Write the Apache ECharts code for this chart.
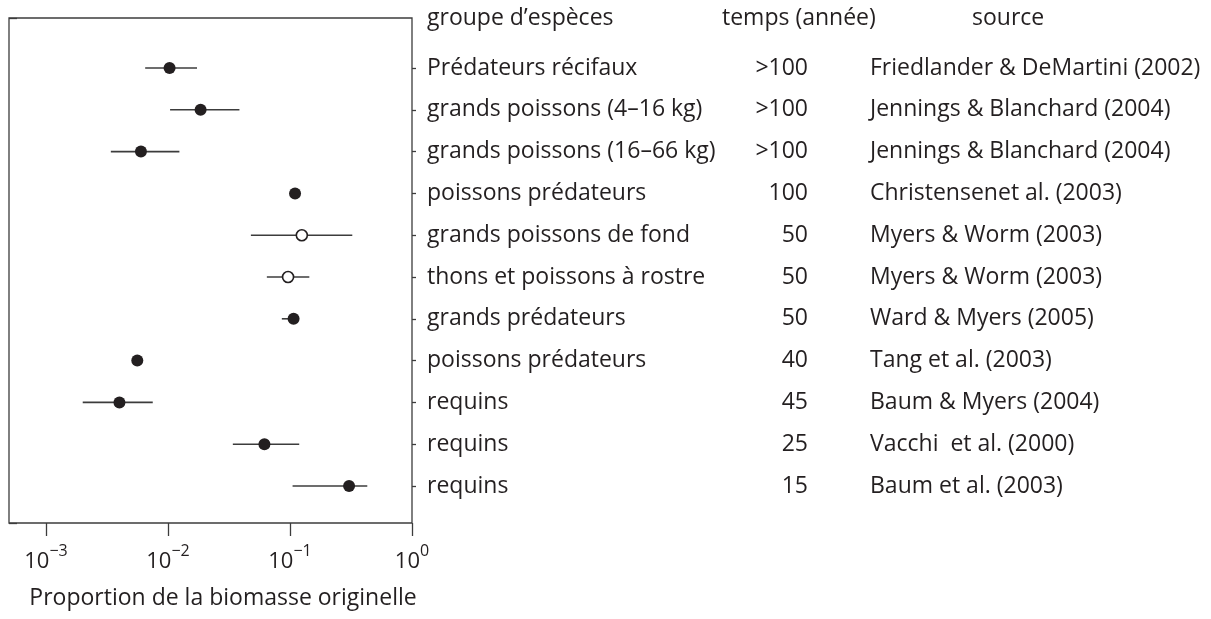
<!DOCTYPE html>
<html>
<head>
<meta charset="utf-8">
<script src="https://cdn.jsdelivr.net/npm/echarts@6/dist/echarts.min.js"></script>
<style>
  html, body { margin: 0; padding: 0; background: #fff; }
  #chart { width: 1211px; height: 619px; }
</style>
</head>
<body>
<div id="chart"></div>
<script>
// en-têtes des colonnes
const headers = ['groupe d\u2019espèces', 'temps (année)', 'source']

// lignes du tableau (de haut en bas)
const groups = [
  'Prédateurs récifaux',
  'grands poissons (4–16 kg)',
  'grands poissons (16–66 kg)',
  'poissons prédateurs',
  'grands poissons de fond',
  'thons et poissons à rostre',
  'grands prédateurs',
  'poissons prédateurs',
  'requins',
  'requins',
  'requins'
]
const durations = ['>100', '>100', '>100', '100', '50', '50', '50', '40', '45', '25', '15']
const sources = [
  'Friedlander & DeMartini (2002)',
  'Jennings & Blanchard (2004)',
  'Jennings & Blanchard (2004)',
  'Christensenet al. (2003)',
  'Myers & Worm (2003)',
  'Myers & Worm (2003)',
  'Ward & Myers (2005)',
  'Tang et al. (2003)',
  'Baum & Myers (2004)',
  'Vacchi  et al. (2000)',
  'Baum et al. (2003)'
]

// proportion de la biomasse originelle (estimation + intervalle)
const estimates = [0.0103, 0.0185, 0.0060, 0.110, 0.125, 0.0964, 0.107, 0.0056, 0.0040, 0.0617, 0.305]
const lowerCI = [0.0065, 0.0104, 0.0034, null, 0.0478, 0.0646, 0.0857, null, 0.0020, 0.034, 0.105]
const upperCI = [0.0173, 0.0385, 0.0124, null, 0.324, 0.144, 0.107, null, 0.0075, 0.119, 0.43]
const openMarker = [false, false, false, false, true, true, false, false, false, false, false]

const xMin = 0.001
const xMax = 1
const xTitle = 'Proportion de la biomasse originelle'

const FONT = 'Open Sans'
const INK = '#231f20'
const LINE = '#3c3c3c'
const FS = 23

const chart = echarts.init(document.getElementById('chart'))

const rowIdx = groups.map((g, i) => String(i))

const errData = []
estimates.forEach((v, i) => {
  if (lowerCI[i] != null) errData.push([lowerCI[i], upperCI[i], i])
})
const filled = []
const hollow = []
estimates.forEach((v, i) => {
  (openMarker[i] ? hollow : filled).push([v, i])
})

const sup = n => (n < 0 ? '\u2212' + Math.abs(n) : String(n))

// axe de catégories (lignes), une copie par colonne de texte
const rowAxis = (labels, margin, align, withTicks) => ({
  gridIndex: 1,
  type: 'category',
  position: 'right',
  inverse: true,
  boundaryGap: false,
  data: rowIdx,
  axisLine: { show: false },
  axisTick: { show: withTicks, inside: false, length: 4, lineStyle: { color: LINE, width: 1.3 } },
  splitLine: { show: false },
  axisLabel: {
    margin: margin,
    interval: 0,
    align: align,
    fontFamily: FONT,
    fontSize: FS,
    color: INK,
    formatter: (v, i) => labels[i]
  }
})

const option = {
  animation: false,
  backgroundColor: '#fff',
  textStyle: { fontFamily: FONT, color: INK },
  grid: [
    // cadre
    { left: 9, right: 799, top: 18, bottom: 96, show: true, borderColor: LINE, borderWidth: 1.3, backgroundColor: 'transparent' },
    // zone des données
    { left: 46, right: 799, top: 68, bottom: 133 }
  ],
  xAxis: [
    { gridIndex: 0, type: 'value', min: 0, max: 1, show: false },
    {
      gridIndex: 1,
      type: 'log',
      logBase: 10,
      min: xMin,
      max: xMax,
      offset: 37,
      axisLine: { show: false },
      axisTick: { show: true, inside: false, length: 13, lineStyle: { color: LINE, width: 1.3 } },
      splitLine: { show: false },
      axisLabel: {
        margin: 20,
        formatter: v => '{b|10}{s|' + sup(Math.round(Math.log10(v))) + '}',
        rich: {
          b: { fontFamily: FONT, fontSize: 22, color: INK, lineHeight: 30, verticalAlign: 'bottom' },
          s: { fontFamily: FONT, fontSize: 16, color: INK, lineHeight: 16, verticalAlign: 'top' }
        }
      },
      name: xTitle,
      nameLocation: 'middle',
      nameGap: 64,
      nameTextStyle: { fontFamily: FONT, fontSize: FS, color: INK, padding: [0, 12, 0, 0] }
    }
  ],
  yAxis: [
    {
      gridIndex: 0,
      type: 'value',
      position: 'right',
      min: 0,
      max: 1,
      interval: 1,
      axisLine: { show: false },
      axisTick: { show: true, inside: false, length: 8, lineStyle: { color: LINE, width: 1.3 } },
      splitLine: { show: false },
      axisLabel: {
        margin: 15,
        formatter: v => (v === 1 ? '{h1|' + headers[0] + '}{h2|' + headers[1] + '}{h3|' + headers[2] + '}' : ''),
        rich: {
          h1: { fontFamily: FONT, fontSize: FS, color: INK, width: 295, align: 'left' },
          h2: { fontFamily: FONT, fontSize: FS, color: INK, width: 250, align: 'left' },
          h3: { fontFamily: FONT, fontSize: FS, color: INK, align: 'left' }
        }
      }
    },
    rowAxis(groups, 15, 'left', true),
    rowAxis(durations, 396, 'right', false),
    rowAxis(sources, 458, 'left', false)
  ],
  series: [
    {
      type: 'custom',
      xAxisIndex: 1,
      yAxisIndex: 1,
      data: errData,
      encode: { x: [0, 1], y: 2 },
      renderItem: (params, api) => {
        const a = api.coord([api.value(0), api.value(2)])
        const b = api.coord([api.value(1), api.value(2)])
        return {
          type: 'line',
          shape: { x1: a[0], y1: a[1], x2: b[0], y2: b[1] },
          style: { stroke: LINE, lineWidth: 1.6 }
        }
      },
      z: 2
    },
    {
      type: 'scatter',
      xAxisIndex: 1,
      yAxisIndex: 1,
      data: filled,
      symbol: 'circle',
      symbolSize: 12,
      itemStyle: { color: INK, opacity: 1 },
      z: 3
    },
    {
      type: 'scatter',
      xAxisIndex: 1,
      yAxisIndex: 1,
      data: hollow,
      symbol: 'circle',
      symbolSize: 11,
      itemStyle: { color: '#fff', borderColor: INK, borderWidth: 1.6, opacity: 1 },
      z: 3
    }
  ]
}

chart.setOption(option)
window.addEventListener('resize', () => chart.resize())
</script>
</body>
</html>
